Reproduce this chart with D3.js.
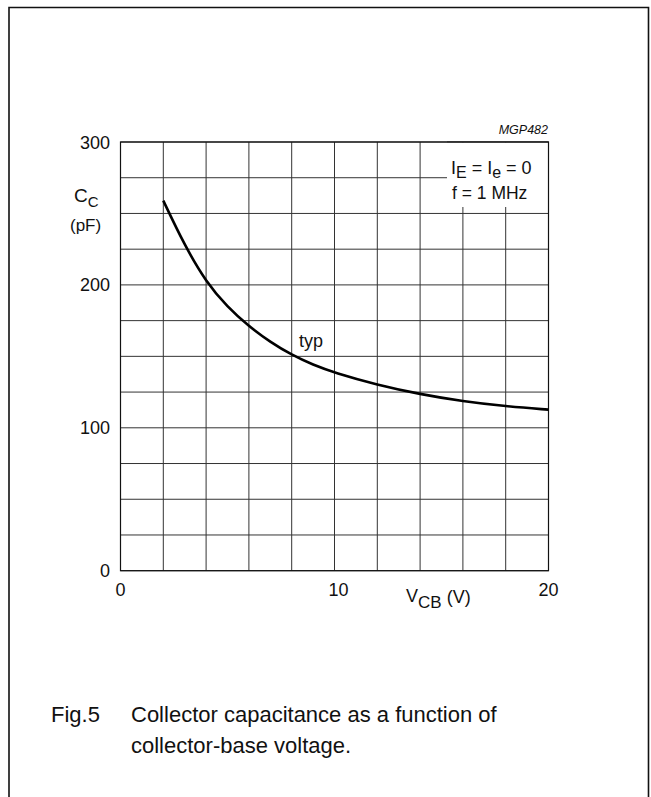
<!DOCTYPE html>
<html>
<head>
<meta charset="utf-8">
<script src="https://cdn.jsdelivr.net/npm/d3@7"></script>
<style>
  html, body { margin: 0; padding: 0; background: #fff; }
  svg { display: block; font-family: "Liberation Sans", Arial, sans-serif; }
</style>
</head>
<body>
<svg id="chart" width="651" height="797"></svg>
<script>
// ---- data ----
const vcb = [2, 3, 4, 5, 6, 7, 8, 9, 10, 12, 14, 16, 18, 20];      // V
const cc  = [259, 227.5, 202, 184.5, 171, 160, 151, 144, 138.5, 130, 123.5, 118.5, 115, 112.7]; // pF
const xTickLabels = [0, 10, 20];
const yTickLabels = [0, 100, 200, 300];
const xGrid = [0, 2, 4, 6, 8, 10, 12, 14, 16, 18, 20];
const yGrid = [0, 25, 50, 75, 100, 125, 150, 175, 200, 225, 250, 275, 300];

const svg = d3.select("#chart");
const x = d3.scaleLinear().domain([0, 20]).range([120.5, 548.5]);
const y = d3.scaleLinear().domain([0, 300]).range([570.7, 142]);

// outer frame (open at bottom)
svg.append("path")
  .attr("d", "M9,800 V7.5 H648.5 V800")
  .attr("fill", "none").attr("stroke", "#111").attr("stroke-width", 1.6);

// grid
const g = svg.append("g");
g.selectAll("line.v").data(xGrid).join("line")
  .attr("x1", d => x(d)).attr("x2", d => x(d))
  .attr("y1", y(0)).attr("y2", y(300))
  .attr("stroke", "#333").attr("stroke-width", 1);
g.selectAll("line.h").data(yGrid).join("line")
  .attr("x1", x(0)).attr("x2", x(20))
  .attr("y1", d => y(d)).attr("y2", d => y(d))
  .attr("stroke", "#333").attr("stroke-width", 1);

// legend box (white, covers grid)
svg.append("rect")
  .attr("x", 447).attr("y", y(300) + 0.5)
  .attr("width", x(20) - 447 - 0.5).attr("height", 207 - y(300) - 0.5)
  .attr("fill", "#fff");
svg.append("path")
  .attr("d", `M447,${y(300)} H${x(20)} V207`)
  .attr("fill", "none").attr("stroke", "#333").attr("stroke-width", 1);

// plot border
svg.append("rect")
  .attr("x", x(0)).attr("y", y(300))
  .attr("width", x(20) - x(0)).attr("height", y(0) - y(300))
  .attr("fill", "none").attr("stroke", "#111").attr("stroke-width", 1.2);

// curve
const pts = vcb.map((v, i) => [v, cc[i]]);
svg.append("path")
  .datum(pts)
  .attr("d", d3.line().x(d => x(d[0])).y(d => y(d[1])).curve(d3.curveBasis))
  .attr("fill", "none").attr("stroke", "#000").attr("stroke-width", 2.6);

// tick labels
svg.selectAll("text.yt").data(yTickLabels).join("text")
  .attr("x", 110).attr("y", d => y(d) + 6.5)
  .attr("text-anchor", "end").attr("font-size", 18).attr("fill", "#111")
  .text(d => d);
svg.selectAll("text.xt").data(xTickLabels).join("text")
  .attr("x", d => x(d) + (d === 10 ? 4 : 0)).attr("y", 596)
  .attr("text-anchor", "middle").attr("font-size", 18).attr("fill", "#111")
  .text(d => d);

// axis labels
const yl = svg.append("text").attr("x", 74).attr("y", 202).attr("font-size", 19).attr("fill", "#111");
yl.append("tspan").text("C");
yl.append("tspan").attr("dy", 5).attr("font-size", 15).text("C");
svg.append("text").attr("x", 70).attr("y", 231).attr("font-size", 17).attr("fill", "#111").text("(pF)");

const xl = svg.append("text").attr("x", 406).attr("y", 602).attr("font-size", 18).attr("fill", "#111");
xl.append("tspan").text("V");
xl.append("tspan").attr("dy", 6).attr("font-size", 17).text("CB");
xl.append("tspan").attr("dy", -5).text(" (V)");

// legend text
const l1 = svg.append("text").attr("x", 451).attr("y", 174).attr("font-size", 18).attr("fill", "#111");
l1.append("tspan").text("I");
l1.append("tspan").attr("dy", 3.5).attr("font-size", 16).text("E");
l1.append("tspan").attr("dy", -3.5).text(" = I");
l1.append("tspan").attr("dy", 3.5).attr("font-size", 16).text("e");
l1.append("tspan").attr("dy", -3.5).text(" = 0");
svg.append("text").attr("x", 452).attr("y", 198.5).attr("font-size", 17.5).attr("fill", "#111").text("f = 1 MHz");

// code
svg.append("text").attr("x", 548).attr("y", 133.5).attr("text-anchor", "end")
  .attr("font-size", 12.5).attr("font-style", "italic").attr("fill", "#111").text("MGP482");

// curve label
svg.append("text").attr("x", 299).attr("y", 346.5).attr("font-size", 18).attr("fill", "#111").text("typ");

// caption
svg.append("text").attr("x", 51).attr("y", 721.5).attr("font-size", 22).attr("fill", "#111").text("Fig.5");
svg.append("text").attr("x", 131).attr("y", 721.5).attr("font-size", 22).attr("fill", "#111").text("Collector capacitance as a function of");
svg.append("text").attr("x", 131).attr("y", 752.5).attr("font-size", 22).attr("fill", "#111").text("collector-base voltage.");
</script>
</body>
</html>
